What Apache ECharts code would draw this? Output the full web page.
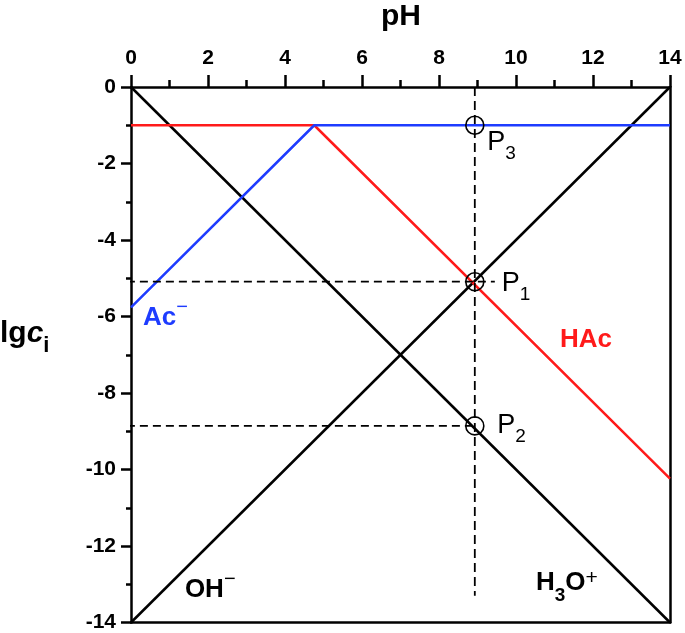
<!DOCTYPE html>
<html><head><meta charset="utf-8">
<script src="https://cdn.jsdelivr.net/npm/echarts@6/dist/echarts.min.js"></script>
<style>html,body{margin:0;padding:0;background:#fff}#c{width:685px;height:633px}</style>
</head><body><div id="c"></div>
<script>
// ---- data ----
const xTickMin = 0, xTickMax = 14, xTickStep = 2;
const yTickMin = -14, yTickMax = 0, yTickStep = 2;
const hacLine = [[0, -1], [4.76, -1], [14, -10.24]];
const acLine = [[0, -5.76], [4.76, -1], [14, -1]];
const h3oLine = [[0, 0], [14, -14]];
const ohLine = [[0, -14], [14, 0]];
const markPoints = [[8.93, -5.09], [8.93, -8.86], [8.93, -1]]; // P1, P2, P3
const vDash = [[8.93, 0], [8.93, -13.3]];
const h1Dash = [[-1.12, -5.09], [9.45, -5.09]];
const h2Dash = [[-1.12, -8.86], [8.93, -8.86]];
const labelTexts = ['{m|Ac}{sup|−}', '{m|HAc}', '{m|OH}{sup|−}', '{m|H}{sub|3}{m|O}{sup2|+}', '{p|P}{ps|1}', '{p|P}{ps|2}', '{p|P}{ps|3}'];
const labelAt = [[0.31, -6.03], [11.14, -6.6], [1.40, -13.14], [10.52, -12.97], [9.63, -5.14], [9.51, -8.86], [9.25, -1.45]];
const labelColors = ['#1e3cff', '#ff1a1a', '#000', '#000', '#000', '#000', '#000'];
const labelLineHeights = [41, 30, 41, 30, 30, 30, 30];

const FONT = '"Liberation Sans", Arial, sans-serif';
const BLUE = '#1e3cff', RED = '#ff1a1a';

function richFor(color, L) {
  return {
    m: {fontSize: 26, fontWeight: 'bold', color: color, fontFamily: FONT, lineHeight: L},
    sup: {fontSize: 20, fontWeight: 'normal', color: color, fontFamily: FONT, lineHeight: 4, verticalAlign: 'top'},
    sup2: {fontSize: 21, fontWeight: 'normal', color: color, fontFamily: FONT, lineHeight: 4, verticalAlign: 'top'},
    sub: {fontSize: 19, fontWeight: 'bold', color: color, fontFamily: FONT, lineHeight: 4, verticalAlign: 'top', padding: [17.7, 0, 0, 0]},
    p: {fontSize: 27, fontWeight: 'normal', color: color, fontFamily: FONT, lineHeight: L},
    ps: {fontSize: 19, fontWeight: 'normal', color: color, fontFamily: FONT, lineHeight: 4, verticalAlign: 'top', padding: [16.7, 0, 0, 0]}
  };
}

const labelData = labelAt.map((p, i) => ({
  value: p,
  label: {show: true, position: 'right', distance: 0, formatter: labelTexts[i], rich: richFor(labelColors[i], labelLineHeights[i])}
}));

const axisCommon = {
  type: 'value', splitLine: {show: false}, minorSplitLine: {show: false}
};

const chart = echarts.init(document.getElementById('c'), null, {renderer: 'canvas'});
chart.setOption({
  animation: false,
  backgroundColor: '#fff',
  title: [
    {text: 'pH', left: 381, top: 2, padding: 0,
     textStyle: {fontSize: 30, fontWeight: 'bold', color: '#000', fontFamily: FONT}},
    {text: '{a|lg}{b|c}{s|i}', left: 0, top: 318, padding: 0,
     textStyle: {rich: {
       a: {fontSize: 30, fontWeight: 'bold', color: '#000', fontFamily: FONT, lineHeight: 32},
       b: {fontSize: 30, fontWeight: 'bold', fontStyle: 'italic', color: '#000', fontFamily: FONT, lineHeight: 32},
       s: {fontSize: 22, fontWeight: 'bold', color: '#000', fontFamily: FONT, lineHeight: 4, verticalAlign: 'top', padding: [17.4, 0, 0, 0]}
     }}}
  ],
  grid: {left: 131, right: 15, top: 87, bottom: 7, containLabel: false},
  xAxis: [
    Object.assign({}, axisCommon, {
      position: 'top', min: xTickMin, max: xTickMax, interval: xTickStep,
      axisLine: {show: true, onZero: false, lineStyle: {color: '#000', width: 2.5}},
      axisTick: {show: true, inside: false, length: 12, lineStyle: {color: '#000', width: 2.5}},
      minorTick: {show: true, splitNumber: 2, length: 7, lineStyle: {color: '#000', width: 2.5}},
      axisLabel: {show: true, margin: 18, fontSize: 21, fontWeight: 'bold', color: '#000', fontFamily: FONT}
    }),
    Object.assign({}, axisCommon, {
      position: 'bottom', min: xTickMin, max: xTickMax,
      axisLine: {show: true, onZero: false, lineStyle: {color: '#000', width: 2.5}},
      axisTick: {show: false}, axisLabel: {show: false}
    })
  ],
  yAxis: [
    Object.assign({}, axisCommon, {
      position: 'left', min: yTickMin, max: yTickMax, interval: yTickStep,
      axisLine: {show: true, onZero: false, lineStyle: {color: '#000', width: 2.5}},
      axisTick: {show: true, inside: false, length: 10, lineStyle: {color: '#000', width: 2.5}},
      minorTick: {show: true, splitNumber: 2, length: 5, lineStyle: {color: '#000', width: 2.5}},
      axisLabel: {show: true, margin: 15, fontSize: 21, fontWeight: 'bold', color: '#000', fontFamily: FONT}
    }),
    Object.assign({}, axisCommon, {
      position: 'right', min: yTickMin, max: yTickMax,
      axisLine: {show: true, onZero: false, lineStyle: {color: '#000', width: 2.5}},
      axisTick: {show: false}, axisLabel: {show: false}
    })
  ],
  series: [
    {name: 'H3O+', type: 'line', data: h3oLine, showSymbol: false, symbol: 'none', lineStyle: {color: '#000', width: 2.5}, z: 3},
    {name: 'OH-', type: 'line', data: ohLine, showSymbol: false, symbol: 'none', lineStyle: {color: '#000', width: 2.5}, z: 3},
    {name: 'HAc', type: 'line', data: hacLine, showSymbol: false, symbol: 'none', lineStyle: {color: RED, width: 2.5}, z: 4},
    {name: 'Ac-', type: 'line', data: acLine, showSymbol: false, symbol: 'none', lineStyle: {color: BLUE, width: 2.5}, z: 4},
    {name: 'vdash', type: 'line', data: vDash, showSymbol: false, symbol: 'none', clip: false, lineStyle: {color: '#000', width: 1.8, type: [9, 5]}, z: 5},
    {name: 'h1dash', type: 'line', data: h1Dash, showSymbol: false, symbol: 'none', clip: false, lineStyle: {color: '#000', width: 1.8, type: [8, 5]}, z: 5},
    {name: 'h2dash', type: 'line', data: h2Dash, showSymbol: false, symbol: 'none', clip: false, lineStyle: {color: '#000', width: 1.8, type: [8, 5]}, z: 5},
    {name: 'points', type: 'scatter', data: markPoints, symbol: 'circle', symbolSize: 18, clip: false,
     itemStyle: {color: 'rgba(0,0,0,0)', borderColor: '#000', borderWidth: 1.6, opacity: 1}, z: 6},
    {name: 'labels', type: 'scatter', data: labelData, symbolSize: 0, clip: false, z: 7, silent: true,
     itemStyle: {opacity: 1}}
  ]
});
</script>
</body></html>
